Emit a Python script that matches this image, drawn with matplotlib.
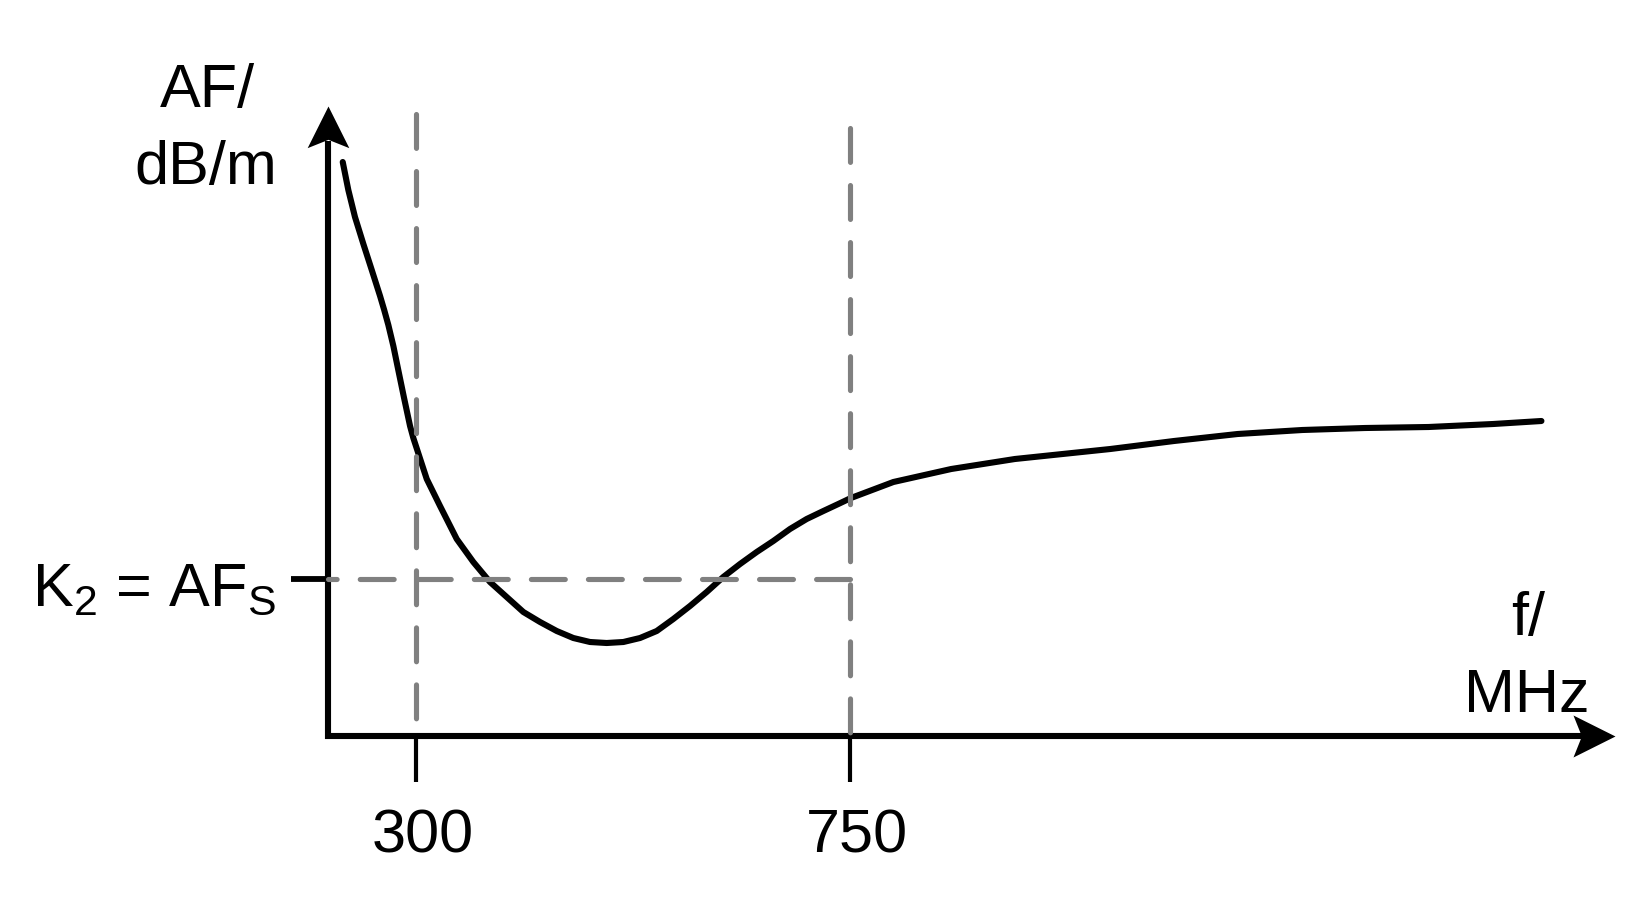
import matplotlib
matplotlib.use("Agg")
import matplotlib.pyplot as plt
from matplotlib.path import Path

plt.rcParams['font.family'] = ['Liberation Sans', 'DejaVu Sans']
plt.rcParams['mathtext.fontset'] = 'custom'
plt.rcParams['mathtext.rm'] = 'Liberation Sans'
plt.rcParams['mathtext.it'] = 'Liberation Sans:italic'

# ---- data (y in arbitrary dB/m units) ----
freq_mhz = [224.0, 229.8, 236.7, 245.4, 254.1, 262.7, 267.0, 271.3, 276.5, 281.6, 287.6,
            293.8, 297.2, 311.1, 324.9, 342.2, 359.4, 376.7, 394.0, 411.3, 428.6,
            445.9, 463.1, 480.4, 497.7, 515.0, 532.3, 549.6, 566.8, 584.1, 601.4,
            618.6, 636.0, 653.3, 670.5, 687.8, 705.1, 722.4, 737.9, 751, 795,
            855, 921, 1020, 1086, 1152, 1219, 1284, 1350, 1417, 1467]
af_dbm = [57.4, 54.6, 51.9, 49.2, 46.6, 44.0, 42.6, 41.1, 39.0, 36.6, 33.8,
          31.0, 29.8, 25.7, 23.0, 19.7, 17.4, 15.4, 13.9, 12.4, 11.4,
          10.5, 9.8, 9.4, 9.3, 9.4, 9.8, 10.5, 11.7, 13.0, 14.4,
          15.9, 17.2, 18.4, 19.5, 20.7, 21.7, 22.5, 23.2, 23.8, 25.4,
          26.7, 27.7, 28.7, 29.5, 30.2, 30.6, 30.8, 30.9, 31.2, 31.5]
tick_freqs = [300, 750]
tick_labels = ["300", "750"]
k2_level = 15.7

# axis extents (data units)
x_origin = 208.75
x_end = 1543.3
y_top = 63.0

fig = plt.figure(figsize=(16.45, 9.04), dpi=100)
ax = fig.add_axes([0, 0, 1, 1])
ax.set_xlim(-131.4, 1574.4)
ax.set_ylim(-16.7, 73.7)
ax.axis('off')

# axes lines (L shape)
ax.plot([x_origin, x_origin, x_end - 30], [y_top - 3.5, 0, 0], color='black',
        lw=4.4, solid_joinstyle='miter', solid_capstyle='butt', zorder=2)

# arrow heads as custom markers
head_x = Path([(0, 0), (-1, 0.5), (-0.8, 0), (-1, -0.5), (0, 0)],
              [Path.MOVETO, Path.LINETO, Path.LINETO, Path.LINETO, Path.CLOSEPOLY])
head_y = Path([(0, 0), (-0.5, -1), (0, -0.8), (0.5, -1), (0, 0)],
              [Path.MOVETO, Path.LINETO, Path.LINETO, Path.LINETO, Path.CLOSEPOLY])
ax.plot([x_end], [0], marker=head_x, markersize=60.5, color='black',
        markeredgewidth=0, linestyle='none', zorder=3)
ax.plot([x_origin], [y_top], marker=head_y, markersize=60, color='black',
        markeredgewidth=0, linestyle='none', zorder=3)

# tick marks under x-axis
for f in tick_freqs:
    ax.plot([f, f], [0, -4.6], color='black', lw=3.0, solid_capstyle='butt', zorder=2)
# tick at K2 level
ax.plot([170.4, x_origin], [k2_level, k2_level], color='black', lw=4.2,
        solid_capstyle='butt', zorder=2)

# curve
ax.plot(freq_mhz, af_dbm, color='black', lw=4.4, solid_capstyle='round',
        solid_joinstyle='round', zorder=2)

# dashed guide lines
dash_kw = dict(color='#808080', lw=3.7, linestyle=(0, (6.6, 4.5)),
               dash_capstyle='round', zorder=4)
ax.plot([tick_freqs[0], tick_freqs[0]], [62.2, 0], **dash_kw)
ax.plot([tick_freqs[1], tick_freqs[1]], [60.8, 0], **dash_kw)
ax.plot([tick_freqs[1], x_origin], [k2_level, k2_level], **dash_kw)

fs = 44
# tick labels
for f, lab in zip(tick_freqs, tick_labels):
    ax.text(f + 7, -11.6, lab, ha='center', va='baseline', fontsize=fs)

# axis labels
ax.text(83.3, 63.0, "AF/", ha='center', va='baseline', fontsize=fs)
ax.text(82.2, 55.3, "dB/m", ha='center', va='baseline', fontsize=fs)
ax.text(1453, 10.2, "f/", ha='center', va='baseline', fontsize=fs)
ax.text(1452, 2.5, "MHz", ha='center', va='baseline', fontsize=fs)

# K2 label
ax.text(154.8, 13.2, r"K$_\mathregular{2}$ = AF$_\mathregular{S}$", ha='right',
        va='baseline', fontsize=fs)

fig.savefig("out.png", dpi=100)
